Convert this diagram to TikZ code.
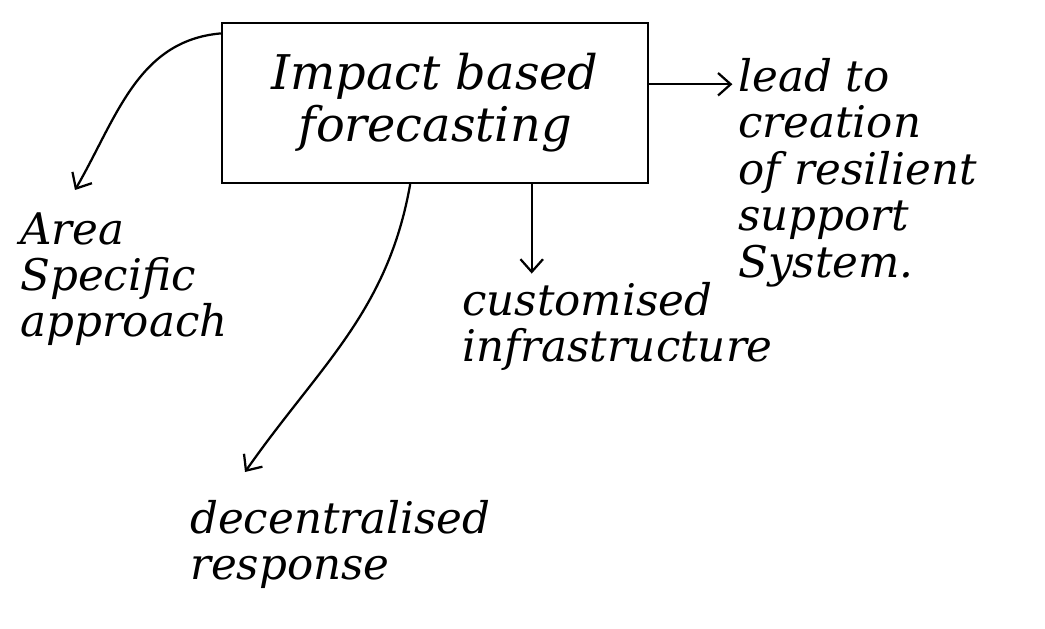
\documentclass[tikz,border=0pt]{standalone}
\usepackage{fontspec}
\setmainfont{DejaVu Serif}
\usetikzlibrary{positioning}
\usetikzlibrary{arrows.meta}
\usetikzlibrary{calc}
\tikzset{
    hand/.style={ % handwritten looking text
        font=\itshape\fontsize{31}{33}\selectfont,
        align=left,
        inner sep=0pt
    },
    mainbox/.style={
        draw,
        line width=1.6pt,
        minimum width=10.65cm,
        minimum height=4cm
    },
    every edge/.style={ % the pen strokes
        draw,
        -{Straight Barb[length=9pt,width=16pt,line width=1.6pt]},
        line width=1.6pt
    }
}

\begin{document}
\begin{tikzpicture}[x=0.025cm, y=-0.025cm]
    \useasboundingbox (0,0) rectangle (1045,629);
    \node[mainbox, hand, align=center, font=\itshape\fontsize{34}{37}\selectfont] (ibf) at (435,103) {Impact based\\forecasting};
    \node[hand, anchor=north west] (lead) at (738,58) {lead to\\creation\\of resilient\\support\\System.};
    \node[hand, anchor=north west] (area) at (20,212) {Area\\Specific\\approach};
    \node[hand, anchor=north west] (cust) at (462,282) {customised\\infrastructure};
    \node[hand, anchor=north west] (dec) at (190,500) {decentralised\\response};

    \draw (ibf.5) edge[shorten >=4pt] (lead.west |- ibf.5);
    \draw (ibf.162) edge[out=185, in=60] ($(area.north west)+(55,-22)$);
    \draw (ibf.-40) edge[shorten >=6pt] (ibf.-40 |- cust.north);
    \draw (ibf.-107) edge[out=-100, in=55] ($(dec.north west)+(55,-28)$);
\end{tikzpicture}
\end{document}
